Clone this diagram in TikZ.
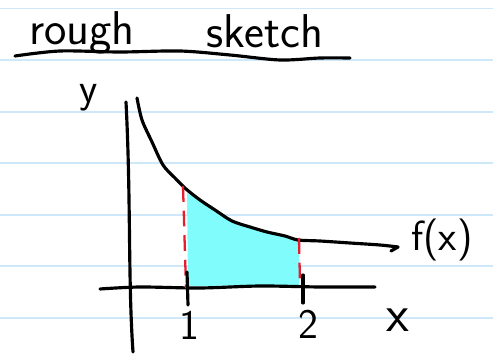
\documentclass[tikz,border=0pt]{standalone}
\usepackage{tikz}
\definecolor{paperblue}{RGB}{206,232,250}
\definecolor{inkred}{RGB}{228,30,45}
\definecolor{hilite}{RGB}{128,252,252}
\begin{document}
\begin{tikzpicture}[x=0.02cm,y=-0.02cm]

\tikzset{ruling/.style={draw=paperblue, line width=0.9pt}}
\tikzset{pen/.style={draw=black, line width=1.8pt, line cap=round, line join=round}}
\tikzset{reddash/.style={draw=inkred, line width=1.3pt, dash pattern=on 9pt off 5pt}}
\tikzset{hand/.style={text=black, inner sep=0pt, font=\sffamily\fontsize{24}{26}\selectfont}}

\useasboundingbox (0,0) rectangle (493,354);

% ruled paper
\draw[ruling] (0,8.5) -- (493,8.5);
\draw[ruling] (0,60) -- (493,60);
\draw[ruling] (0,112) -- (493,112);
\draw[ruling] (0,163) -- (493,163);
\draw[ruling] (0,215) -- (493,215);
\draw[ruling] (0,266) -- (493,266);
\draw[ruling] (0,318) -- (493,318);

% title
\node[hand, font=\sffamily\fontsize{27}{29}\selectfont] (rough) at (82,33) {rough};
\node[hand, font=\sffamily\fontsize{27}{29}\selectfont] (sketch) at (265,31) {sketch};
\draw[pen] plot[smooth] coordinates {(15,56) (60,51) (120,52) (180,51) (230,55) (280,60) (320,58) (350,58)};

% area under the curve
\fill[hilite] plot[smooth] coordinates {(187,193) (200,200) (215,210) (232,221) (250,227) (267,232) (285,236) (299,240)}
  -- (299,285) -- (188,286) -- cycle;

% axes
\draw[pen] (126,102) .. controls (131,200) and (128,280) .. (133,352);
\draw[pen] plot[smooth] coordinates {(100,289) (140,287) (200,288) (260,286) (320,287) (375,287)};

% the curve
\draw[pen] plot[smooth] coordinates {(137,98) (142,120) (152,142) (163,165) (175,178) (186,189) (200,200)
  (215,210) (232,221) (250,227) (267,232) (285,236) (298,240) (320,241) (350,243) (380,245) (398,247)};
\draw[pen] (398,247) -- (391,251);

% limits
\draw[reddash] (183,186) -- (186,288);
\draw[reddash] (299,238) -- (300,284);

% ticks
\draw[pen] (187,272) -- (188,305);
\draw[pen] (303,275) -- (303,303);

% labels
\node[hand] (ylab) at (89,98) {y};
\node[hand] (one) at (189,325) {1};
\node[hand] (two) at (308,324) {2};
\node[hand, font=\sffamily\fontsize{30}{32}\selectfont] (xlab) at (398,320) {x};
\node[hand] (flab) at (442,240) {f(x)};

\end{tikzpicture}
\end{document}
